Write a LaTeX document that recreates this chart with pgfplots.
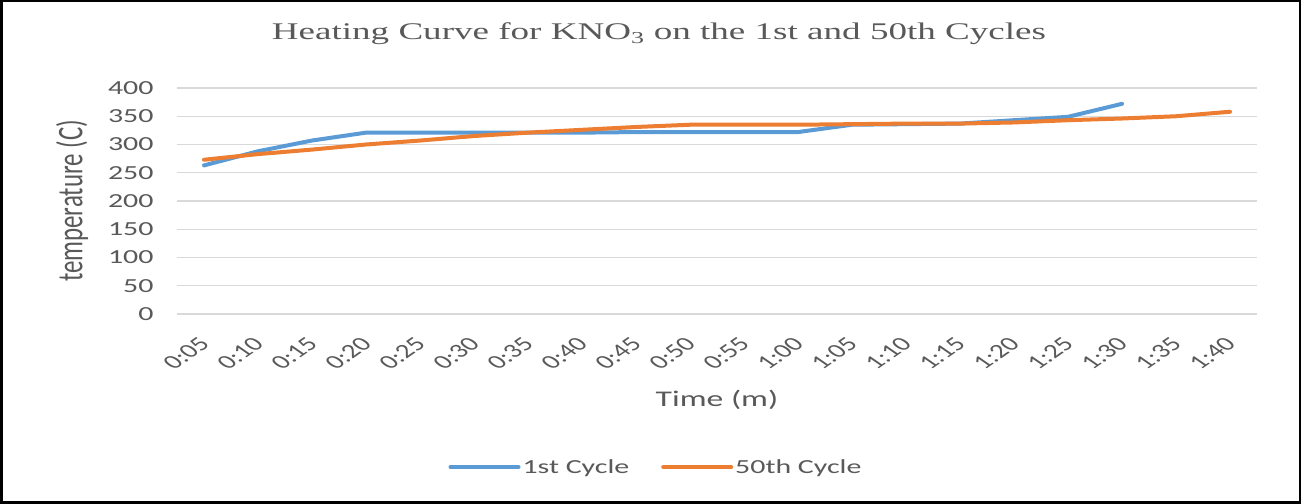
\documentclass[border=0pt]{standalone}
\usepackage{fontspec}
\setmainfont{Carlito}[FakeStretch=1.5]
\newfontfamily\titlefont{Liberation Serif}[FakeStretch=1.55]
\newfontfamily\plainfont{Carlito}
\usepackage{pgfplots}
\usepackage{pgfplotstable}
\pgfplotsset{compat=1.18}
\definecolor{cblue}{HTML}{5B9BD5}
\definecolor{corange}{HTML}{ED7D31}
\definecolor{txt}{HTML}{595959}
\definecolor{gridc}{HTML}{D9D9D9}

\pgfplotstableread{
x y
0 263
1 288
2 307
3 321
4 321
5 321
6 321
7 321
8 322
9 322
10 322
11 322
12 335
13 336
14 337
15 343
16 349
17 372
}\firstcycle

\pgfplotstableread{
x y
0 273
1 283
2 291
3 300
4 307
5 315
6 321
7 326
8 331
9 335
10 335
11 335
12 336
13 337
14 337
15 339
16 343
17 346
18 350
19 358
}\fiftiethcycle

\begin{document}
\begin{tikzpicture}
\begin{axis}[
  at={(177bp,190bp)}, anchor=south west,
  scale only axis, width=1080bp, height=226bp,
  xmin=-0.5, xmax=19.5, ymin=0, ymax=400,
  ytick={0,50,...,400},
  xtick={0,...,19},
  xticklabels={0:05,0:10,0:15,0:20,0:25,0:30,0:35,0:40,0:45,0:50,0:55,1:00,1:05,1:10,1:15,1:20,1:25,1:30,1:35,1:40},
  ymajorgrids,
  major grid style={color=gridc, line width=1.3bp},
  axis line style={draw=none},
  major tick length=0pt,
  tick label style={font=\fontsize{20}{24}\selectfont, text=txt},
  /pgf/number format/assume math mode=true,
  yticklabel style={xshift=-20bp},
  xticklabel style={font=\plainfont\fontsize{20}{24}\selectfont, yshift=-24bp, xshift=4bp, xscale=1.45, rotate=45, anchor=east},
  title={\titlefont\fontsize{24}{28}\selectfont Heating Curve for KNO\textsubscript{3} on the 1st and 50th Cycles},
  title style={at={(axis description cs:0.5,1)}, anchor=center, xshift=-58bp, yshift=48bp, text=txt},
  xlabel={Time (m)},
  xlabel style={at={(axis description cs:0.5,0)}, anchor=center, yshift=-86bp, font=\fontsize{22.5}{26}\selectfont, text=txt},
  ylabel={temperature (C)},
  every axis y label/.style={at={(axis description cs:0,0.5)}, anchor=center, xshift=-105bp, xscale=1.45, rotate=90, font=\plainfont\fontsize{25}{28}\selectfont, text=txt},
  legend style={draw=none, at={(axis description cs:0.4435,-0.677)}, anchor=center, legend columns=2, font=\fontsize{20}{24}\selectfont, text=txt, /tikz/every even column/.append style={column sep=30bp}},
  legend image code/.code={\draw[#1, line width=4bp, line cap=round] (0bp,0bp) -- (68bp,0bp);},
]
\addplot[cblue, line width=4bp, line cap=round, line join=round] table {\firstcycle};
\addlegendentry{1st Cycle}
\addplot[corange, line width=4bp, line cap=round, line join=round] table {\fiftiethcycle};
\addlegendentry{50th Cycle}
\end{axis}
\draw[black, line width=2.5bp] (1.25bp,1.25bp) rectangle (1299.75bp,502.75bp);
\end{tikzpicture}
\end{document}
